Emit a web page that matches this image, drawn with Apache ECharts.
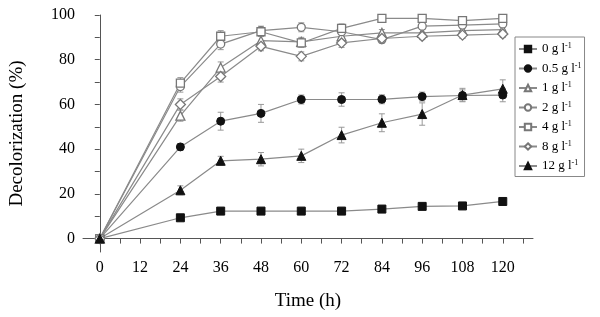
<!DOCTYPE html>
<html><head><meta charset="utf-8">
<script src="https://cdn.jsdelivr.net/npm/echarts@6/dist/echarts.min.js"></script>
<style>html,body{margin:0;padding:0;background:#fff}#c{width:600px;height:317px}</style>
</head><body><div id="c"></div>
<script>
var times = [0, 24, 36, 48, 60, 72, 84, 96, 108, 120];
var xTickLabels = [0, 12, 24, 36, 48, 60, 72, 84, 96, 108, 120];
var yTickLabels = [0, 20, 40, 60, 80, 100];
var seriesNames = ['0 g l', '0.5 g l', '1 g l', '2 g l', '4 g l', '8 g l', '12 g l'];
var s0  = [0, 9.3, 12.3, 12.3, 12.3, 12.3, 13.2, 14.4, 14.6, 16.6];
var s05 = [0, 41, 52.5, 56, 62.2, 62.2, 62.3, 63.5, 64, 64.2];
var s1  = [0, 55, 76.5, 88.5, 88, 90.5, 92, 92, 93, 93.5];
var s2  = [0, 68, 87, 93, 94.5, 92.5, 89, 95, 95.5, 96];
var s4  = [0, 69.5, 90.5, 92.5, 87.5, 94, 98.5, 98.5, 97.5, 98.5];
var s8  = [0, 60, 72.5, 86, 81.5, 87.5, 89.5, 90.5, 91, 91.5];
var s12 = [0, 21.6, 34.8, 35.5, 37, 46.3, 51.8, 55.7, 64.2, 67];
var e05 = [0, 1.5, 4, 4, 2, 3, 2, 2, 2.5, 3];
var e12 = [0, 2, 2, 3, 3, 3.5, 4, 5, 3, 4];
var eUp = [0, 2.5, 2.5, 2, 2, 2, 1.5, 1.5, 1.5, 1.5];

var allVals = [s0, s05, s1, s2, s4, s8, s12];
var symbols = ['rect', 'circle', 'triangle', 'circle', 'rect', 'diamond', 'triangle'];
var filled = [true, true, false, false, false, false, true];
var errs = [null, e05, eUp, eUp, eUp, eUp, e12];

var FONT = '"Liberation Serif","DejaVu Serif",serif';
var series = [];
allVals.forEach(function (vals, i) {
  if (errs[i]) {
    series.push({
      type: 'custom', silent: true, z: 1,
      data: times.map(function (t, k) { return [t, vals[k] - errs[i][k], vals[k] + errs[i][k]]; }),
      renderItem: function (params, api) {
        var lo = api.coord([api.value(0), api.value(1)]);
        var hi = api.coord([api.value(0), api.value(2)]);
        var w = 3;
        var st = { stroke: '#999', lineWidth: 1 };
        return { type: 'group', children: [
          { type: 'line', shape: { x1: lo[0], y1: lo[1], x2: hi[0], y2: hi[1] }, style: st },
          { type: 'line', shape: { x1: lo[0] - w, y1: lo[1], x2: lo[0] + w, y2: lo[1] }, style: st },
          { type: 'line', shape: { x1: hi[0] - w, y1: hi[1], x2: hi[0] + w, y2: hi[1] }, style: st }
        ]};
      }
    });
  }
});
allVals.forEach(function (vals, i) {
  series.push({
    name: seriesNames[i], type: 'line', z: 3,
    data: times.map(function (t, k) { return [t, vals[k]]; }),
    symbol: symbols[i],
    symbolSize: symbols[i] === 'diamond' ? 10 : (symbols[i] === 'triangle' ? 9 : 8),
    showSymbol: true,
    lineStyle: { color: '#8a8a8a', width: 1.2 },
    itemStyle: filled[i] ? { color: '#111', borderColor: '#111', borderWidth: 1 }
                         : { color: '#fff', borderColor: '#777', borderWidth: 1.3 },
    animation: false
  });
});

var chart = echarts.init(document.getElementById('c'), null, { renderer: 'canvas' });
chart.setOption({
  backgroundColor: '#fff',
  animation: false,
  grid: { left: 83, right: 67, top: 15, bottom: 65 },
  legend: {
    left: 515, top: 37, orient: 'vertical',
    data: seriesNames,
    itemWidth: 18, itemHeight: 8, itemGap: 6,
    borderColor: '#888', borderWidth: 1, padding: [5, 3, 4, 3],
    formatter: function (n) { return '{a|' + n + '}{s|-1}'; },
    textStyle: {
      fontFamily: FONT, color: '#000', fontSize: 13,
      rich: { a: { fontFamily: FONT, fontSize: 13, color: '#000' },
              s: { fontFamily: FONT, fontSize: 8, color: '#000', verticalAlign: 'top', padding: [0, 0, 6, 0] } }
    }
  },
  xAxis: {
    type: 'value', min: -5, max: 129,
    name: 'Time (h)', nameLocation: 'middle', nameGap: 40,
    nameTextStyle: { fontFamily: FONT, fontSize: 19, color: '#000' },
    axisLine: { lineStyle: { color: '#555', width: 1 } },
    axisTick: { show: true, length: 5, lineStyle: { color: '#555' },
      customValues: [0, 6, 12, 18, 24, 30, 36, 42, 48, 54, 60, 66, 72, 78, 84, 90, 96, 102, 108, 114, 120, 126] },
    axisLabel: { customValues: xTickLabels, fontFamily: FONT, fontSize: 16, color: '#000', margin: 8 },
    splitLine: { show: false }
  },
  yAxis: {
    type: 'value', min: -6, max: 100,
    name: 'Decolorization (%)', nameLocation: 'middle', nameGap: 56,
    nameTextStyle: { fontFamily: FONT, fontSize: 19, color: '#000' },
    axisLine: { show: true, lineStyle: { color: '#555', width: 1 } },
    axisTick: { show: true, length: 5, lineStyle: { color: '#555' },
      customValues: [0, 10, 20, 30, 40, 50, 60, 70, 80, 90, 100] },
    axisLabel: { customValues: yTickLabels, fontFamily: FONT, fontSize: 16, color: '#000', margin: 8 },
    splitLine: { show: false }
  },
  series: series
});
</script></body></html>
